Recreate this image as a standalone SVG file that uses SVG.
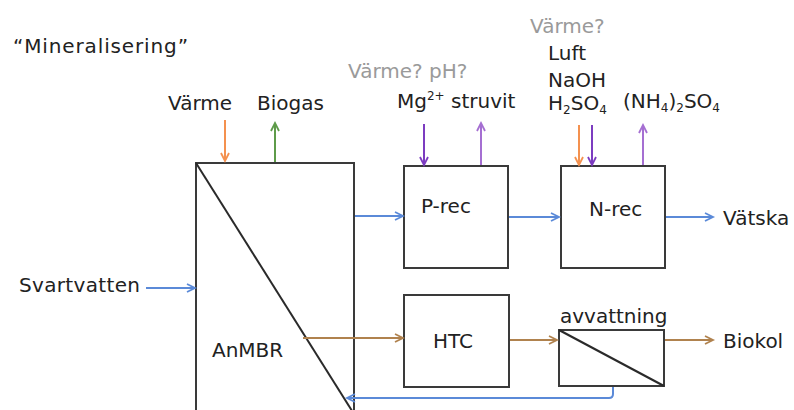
<svg xmlns="http://www.w3.org/2000/svg" width="794" height="410" viewBox="0 0 794 410">
<style>
text{font-family:"DejaVu Sans","Liberation Sans",sans-serif;font-size:20px;fill:#222}
.g{fill:#9a9a9a}
.box{fill:#fff;stroke:#3a3a3a;stroke-width:2}
.dia{stroke:#2a2a2a;stroke-width:2}
.c{fill:none;stroke-width:2}
.bl{stroke:#5b8ad8}
.or{stroke:#f4914f}
.gr{stroke:#5e9b4a}
.pd{stroke:#7c3cc0}
.pu{stroke:#a56fd2}
.br{stroke:#b0824e}
</style>
<defs>
<marker id="mb" markerWidth="12" markerHeight="12" refX="9" refY="5" orient="auto" markerUnits="userSpaceOnUse"><path d="M1,1 L9,5 L1,9" fill="none" stroke="#5b8ad8" stroke-width="1.8"/></marker>
<marker id="mo" markerWidth="12" markerHeight="12" refX="9" refY="5" orient="auto" markerUnits="userSpaceOnUse"><path d="M1,1 L9,5 L1,9" fill="none" stroke="#f4914f" stroke-width="1.8"/></marker>
<marker id="mg" markerWidth="12" markerHeight="12" refX="9" refY="5" orient="auto" markerUnits="userSpaceOnUse"><path d="M1,1 L9,5 L1,9" fill="none" stroke="#5e9b4a" stroke-width="1.8"/></marker>
<marker id="mpd" markerWidth="12" markerHeight="12" refX="9" refY="5" orient="auto" markerUnits="userSpaceOnUse"><path d="M1,1 L9,5 L1,9" fill="none" stroke="#7c3cc0" stroke-width="1.8"/></marker>
<marker id="mpu" markerWidth="12" markerHeight="12" refX="9" refY="5" orient="auto" markerUnits="userSpaceOnUse"><path d="M1,1 L9,5 L1,9" fill="none" stroke="#a56fd2" stroke-width="1.8"/></marker>
<marker id="mbr" markerWidth="12" markerHeight="12" refX="9" refY="5" orient="auto" markerUnits="userSpaceOnUse"><path d="M1,1 L9,5 L1,9" fill="none" stroke="#b0824e" stroke-width="1.8"/></marker>
</defs>
<rect width="794" height="410" fill="#fff"/>

<g id="labels">
<text x="13" y="53" textLength="175">“Mineralisering”</text>
<text x="168" y="110">Värme</text>
<text x="257" y="110">Biogas</text>
<text x="19" y="292" textLength="121">Svartvatten</text>
<text x="348" y="78" class="g">Värme? pH?</text>
<text x="397" y="108">Mg<tspan font-size="12" dy="-8">2+</tspan><tspan dy="8"> struvit</tspan></text>
<text x="530" y="33" class="g">Värme?</text>
<text x="548" y="60">Luft</text>
<text x="548" y="87">NaOH</text>
<text x="548" y="110">H<tspan font-size="12" dy="4">2</tspan><tspan dy="-4">SO</tspan><tspan font-size="12" dy="4">4</tspan></text>
<text x="623" y="108">(NH<tspan font-size="12" dy="4">4</tspan><tspan dy="-4">)</tspan><tspan font-size="12" dy="4">2</tspan><tspan dy="-4">SO</tspan><tspan font-size="12" dy="4">4</tspan></text>
<text x="723" y="225">Vätska</text>
<text x="723" y="348">Biokol</text>
</g>

<g id="AnMBR">
<rect class="box" x="196" y="163" width="158" height="252"/>
<line class="dia" x1="196" y1="163" x2="354" y2="414"/>
<text x="212" y="357">AnMBR</text>
</g>
<g id="P-rec">
<rect class="box" x="404" y="166" width="104" height="102"/>
<text x="421" y="213">P-rec</text>
</g>
<g id="N-rec">
<rect class="box" x="561" y="166" width="104" height="102"/>
<text x="589" y="216">N-rec</text>
</g>
<g id="HTC">
<rect class="box" x="404" y="295" width="105" height="92"/>
<text x="433" y="348">HTC</text>
</g>
<g id="avvattning">
<rect class="box" x="559" y="330" width="105" height="56"/>
<line class="dia" x1="559" y1="330" x2="664" y2="386"/>
<text x="560" y="323" font-size="17">avvattning</text>
</g>

<g id="connectors">
<path class="c or" d="M225,120 V161" marker-end="url(#mo)"/>
<path class="c gr" d="M275,162 V123" marker-end="url(#mg)"/>
<path class="c bl" d="M146,288 H195" marker-end="url(#mb)"/>
<path class="c bl" d="M355,216 H403" marker-end="url(#mb)"/>
<path class="c br" d="M303,338 H403" marker-end="url(#mbr)"/>
<path class="c pd" d="M424,124 V165" marker-end="url(#mpd)"/>
<path class="c pu" d="M481,165 V123" marker-end="url(#mpu)"/>
<path class="c bl" d="M509,217 H559" marker-end="url(#mb)"/>
<path class="c or" d="M579,125 V165" marker-end="url(#mo)"/>
<path class="c pd" d="M592,125 V165" marker-end="url(#mpd)"/>
<path class="c pu" d="M643,165 V125" marker-end="url(#mpu)"/>
<path class="c bl" d="M666,217 H713" marker-end="url(#mb)"/>
<path class="c br" d="M510,340 H557" marker-end="url(#mbr)"/>
<path class="c br" d="M665,340 H713" marker-end="url(#mbr)"/>
<path class="c bl" d="M613,387 V394 Q613,398 609,398 H347" marker-end="url(#mb)"/>
</g>
</svg>
